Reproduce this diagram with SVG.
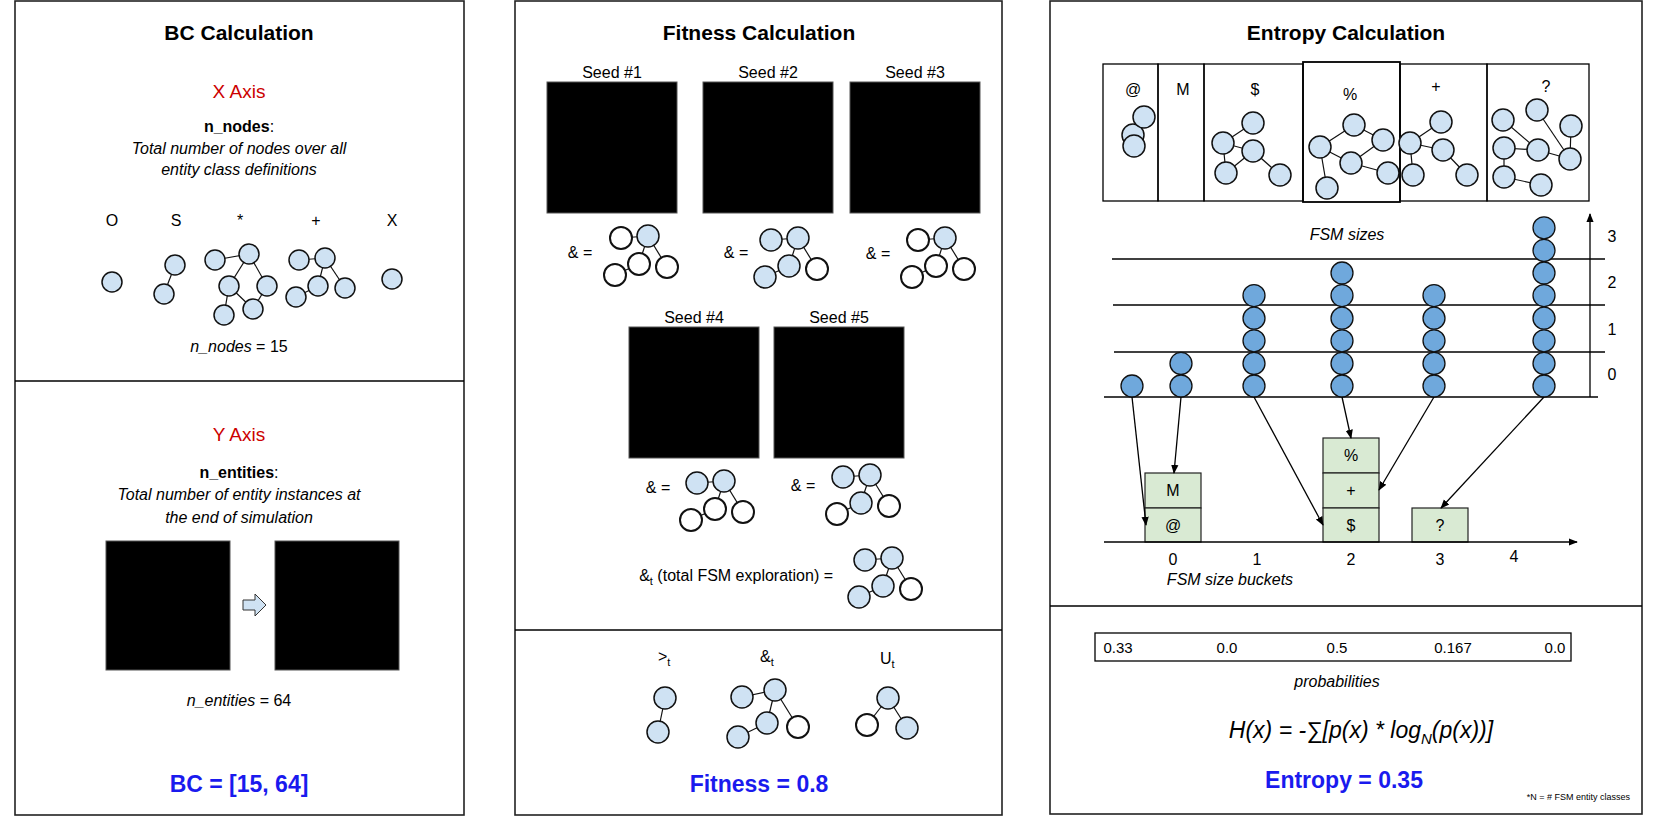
<svg xmlns="http://www.w3.org/2000/svg" width="1660" height="817" viewBox="0 0 1660 817">
<defs>
<marker id="ah" viewBox="0 0 10 10" refX="9" refY="5" markerWidth="7" markerHeight="7" orient="auto"><path d="M0,1 L10,5 L0,9 Z" fill="#000"/></marker>
<style>
text{font-family:"Liberation Sans",Arial,sans-serif;fill:#000}
.t{font-size:21px;font-weight:bold;text-anchor:middle}
.red{font-size:19px;fill:#cc0000;text-anchor:middle}
.m{font-size:16px;text-anchor:middle}
.i{font-size:16px;font-style:italic;text-anchor:middle}
.blue{font-size:23px;font-weight:bold;fill:#1a1aee;text-anchor:middle}
.gr{font-family:"Liberation Mono","DejaVu Sans Mono",monospace;font-size:12px;fill:#d8d8d8}
.bg{fill:#000;stroke:#555}
.panel{fill:#fff;stroke:#222;stroke-width:1.6}
.n{fill:#cfe2f3;stroke:#111;stroke-width:1.5}
.w{fill:#fff;stroke:#111;stroke-width:2}
.h{fill:#6fa8dc;stroke:#111;stroke-width:1.3}
.e{stroke:#111;stroke-width:1.2;fill:none}
.ln{stroke:#000;stroke-width:1.3;fill:none}
.gb{fill:#d9ead3;stroke:#222;stroke-width:1.2}
</style>
</defs>
<rect width="1660" height="817" fill="#fff"/>

<g id="panel-bc">
<rect class="panel" x="15" y="1" width="449" height="814"/>
<line class="ln" x1="15" y1="381" x2="464" y2="381" stroke-width="2"/>
<text class="t" x="239" y="40">BC Calculation</text>
<text class="red" x="239" y="98">X Axis</text>
<text class="m" x="239" y="132"><tspan font-weight="bold">n_nodes</tspan>:</text>
<text class="i" x="239" y="154">Total number of nodes over all</text>
<text class="i" x="239" y="175">entity class definitions</text>
<text class="m" x="112" y="226">O</text><text class="m" x="176" y="226">S</text><text class="m" x="240" y="226">*</text><text class="m" x="316" y="226">+</text><text class="m" x="392" y="226">X</text>
<g class="e"><line x1="175" y1="265" x2="164" y2="294"/><line x1="215" y1="260" x2="249" y2="254"/><line x1="249" y1="254" x2="229" y2="286"/><line x1="249" y1="254" x2="267" y2="286"/><line x1="229" y1="286" x2="224" y2="315"/><line x1="229" y1="286" x2="253" y2="309"/><line x1="267" y1="286" x2="253" y2="309"/><line x1="299" y1="260" x2="325" y2="258"/><line x1="325" y1="258" x2="318" y2="286"/><line x1="325" y1="258" x2="345" y2="288"/><line x1="318" y1="286" x2="296" y2="297"/></g>
<g class="n"><circle cx="112" cy="282" r="10"/><circle cx="175" cy="265" r="10"/><circle cx="164" cy="294" r="10"/><circle cx="215" cy="260" r="10"/><circle cx="249" cy="254" r="10"/><circle cx="229" cy="286" r="10"/><circle cx="267" cy="286" r="10"/><circle cx="224" cy="315" r="10"/><circle cx="253" cy="309" r="10"/><circle cx="299" cy="260" r="10"/><circle cx="325" cy="258" r="10"/><circle cx="318" cy="286" r="10"/><circle cx="345" cy="288" r="10"/><circle cx="296" cy="297" r="10"/><circle cx="392" cy="279" r="10"/></g>
<text class="m" x="239" y="352"><tspan font-style="italic">n_nodes</tspan> = 15</text>
<text class="red" x="239" y="441">Y Axis</text>
<text class="m" x="239" y="478"><tspan font-weight="bold">n_entities</tspan>:</text>
<text class="i" x="239" y="500">Total number of entity instances at</text>
<text class="i" x="239" y="523">the end of simulation</text>
<rect class="bg" x="106" y="541" width="124" height="129"/>
<g class="gr">
<text x="109" y="555" textLength="118" lengthAdjust="spacingAndGlyphs">################</text>
<text x="109" y="571" textLength="118" lengthAdjust="spacingAndGlyphs">#..............#</text>
<text x="109" y="587" textLength="118" lengthAdjust="spacingAndGlyphs">#..............#</text>
<text x="109" y="603" textLength="118" lengthAdjust="spacingAndGlyphs">#..............#</text>
<text x="109" y="619" textLength="118" lengthAdjust="spacingAndGlyphs">#..............#</text>
<text x="109" y="635" textLength="118" lengthAdjust="spacingAndGlyphs">#...........O..#</text>
<text x="109" y="651" textLength="118" lengthAdjust="spacingAndGlyphs">#..............#</text>
<text x="109" y="667" textLength="118" lengthAdjust="spacingAndGlyphs">################</text>
</g>
<path d="M243,600 H255 V594 L266,605 L255,616 V610 H243 Z" fill="#cfe2f3" stroke="#333"/>
<rect class="bg" x="275" y="541" width="124" height="129"/>
<g class="gr">
<text x="278" y="555" textLength="118" lengthAdjust="spacingAndGlyphs">################</text>
<text x="278" y="571" textLength="118" lengthAdjust="spacingAndGlyphs">#.+**.>S.XO^...#</text>
<text x="278" y="587" textLength="118" lengthAdjust="spacingAndGlyphs">#*.OO^.+O^.+S..#</text>
<text x="278" y="603" textLength="118" lengthAdjust="spacingAndGlyphs">#..X@O...+.>S..#</text>
<text x="278" y="619" textLength="118" lengthAdjust="spacingAndGlyphs">#SSS.+X...+&lt;...#</text>
<text x="278" y="635" textLength="118" lengthAdjust="spacingAndGlyphs">#*.SSS.S*.*+...#</text>
<text x="278" y="651" textLength="118" lengthAdjust="spacingAndGlyphs">#.XS.........*.#</text>
<text x="278" y="667" textLength="118" lengthAdjust="spacingAndGlyphs">################</text>
</g>
<text class="m" x="239" y="706"><tspan font-style="italic">n_entities</tspan> = 64</text>
<text class="blue" x="239" y="792">BC = [15, 64]</text>
</g>

<g id="panel-fitness">
<rect class="panel" x="515" y="1" width="487" height="814"/>
<line class="ln" x1="515" y1="630" x2="1002" y2="630" stroke-width="2"/>
<text class="t" x="759" y="40">Fitness Calculation</text>
<text class="m" x="612" y="78">Seed #1</text><text class="m" x="768" y="78">Seed #2</text><text class="m" x="915" y="78">Seed #3</text>
<text class="m" x="694" y="323">Seed #4</text><text class="m" x="839" y="323">Seed #5</text>
<g id="seed1"><rect class="bg" x="547" y="82" width="130" height="131"/><g class="gr">
<text x="550" y="97" textLength="124" lengthAdjust="spacingAndGlyphs">################</text>
<text x="550" y="113" textLength="124" lengthAdjust="spacingAndGlyphs">#..&amp;...........#</text>
<text x="550" y="129" textLength="124" lengthAdjust="spacingAndGlyphs">#..............#</text>
<text x="550" y="145" textLength="124" lengthAdjust="spacingAndGlyphs">#..............#</text>
<text x="550" y="161" textLength="124" lengthAdjust="spacingAndGlyphs">#.............A#</text>
<text x="550" y="177" textLength="124" lengthAdjust="spacingAndGlyphs">#..............#</text>
<text x="550" y="193" textLength="124" lengthAdjust="spacingAndGlyphs">#..............#</text>
<text x="550" y="209" textLength="124" lengthAdjust="spacingAndGlyphs">################</text></g></g>
<g id="seed2"><rect class="bg" x="703" y="82" width="130" height="131"/><g class="gr">
<text x="706" y="97" textLength="124" lengthAdjust="spacingAndGlyphs">################</text>
<text x="706" y="113" textLength="124" lengthAdjust="spacingAndGlyphs">#mm....+++++++.#</text>
<text x="706" y="129" textLength="124" lengthAdjust="spacingAndGlyphs">#.m...++&amp;++++..#</text>
<text x="706" y="145" textLength="124" lengthAdjust="spacingAndGlyphs">#....+++++UUU..#</text>
<text x="706" y="161" textLength="124" lengthAdjust="spacingAndGlyphs">#.....+++UUUU..#</text>
<text x="706" y="177" textLength="124" lengthAdjust="spacingAndGlyphs">#...&amp;...+.+....#</text>
<text x="706" y="193" textLength="124" lengthAdjust="spacingAndGlyphs">#............QQ#</text>
<text x="706" y="209" textLength="124" lengthAdjust="spacingAndGlyphs">################</text></g></g>
<g id="seed3"><rect class="bg" x="850" y="82" width="130" height="131"/><g class="gr">
<text x="853" y="97" textLength="124" lengthAdjust="spacingAndGlyphs">################</text>
<text x="853" y="113" textLength="124" lengthAdjust="spacingAndGlyphs">#..............#</text>
<text x="853" y="129" textLength="124" lengthAdjust="spacingAndGlyphs">#.......&amp;......#</text>
<text x="853" y="145" textLength="124" lengthAdjust="spacingAndGlyphs">#....Q.........#</text>
<text x="853" y="161" textLength="124" lengthAdjust="spacingAndGlyphs">#..............#</text>
<text x="853" y="177" textLength="124" lengthAdjust="spacingAndGlyphs">#..............#</text>
<text x="853" y="193" textLength="124" lengthAdjust="spacingAndGlyphs">#..............#</text>
<text x="853" y="209" textLength="124" lengthAdjust="spacingAndGlyphs">################</text></g></g>
<g id="seed4"><rect class="bg" x="629" y="327" width="130" height="131"/><g class="gr">
<text x="632" y="342" textLength="124" lengthAdjust="spacingAndGlyphs">################</text>
<text x="632" y="358" textLength="124" lengthAdjust="spacingAndGlyphs">#..............#</text>
<text x="632" y="374" textLength="124" lengthAdjust="spacingAndGlyphs">#m.m....&amp;.+++..#</text>
<text x="632" y="390" textLength="124" lengthAdjust="spacingAndGlyphs">#....Q.....+&amp;..#</text>
<text x="632" y="406" textLength="124" lengthAdjust="spacingAndGlyphs">#.m........+&amp;..#</text>
<text x="632" y="422" textLength="124" lengthAdjust="spacingAndGlyphs">#.......&gt;.+....#</text>
<text x="632" y="438" textLength="124" lengthAdjust="spacingAndGlyphs">#............QQ#</text>
<text x="632" y="454" textLength="124" lengthAdjust="spacingAndGlyphs">################</text></g></g>
<g id="seed5"><rect class="bg" x="774" y="327" width="130" height="131"/><g class="gr">
<text x="777" y="342" textLength="124" lengthAdjust="spacingAndGlyphs">################</text>
<text x="777" y="358" textLength="124" lengthAdjust="spacingAndGlyphs">#&gt;.............#</text>
<text x="777" y="374" textLength="124" lengthAdjust="spacingAndGlyphs">#..&amp;.......&amp;&amp;..#</text>
<text x="777" y="390" textLength="124" lengthAdjust="spacingAndGlyphs">#......&amp;.......#</text>
<text x="777" y="406" textLength="124" lengthAdjust="spacingAndGlyphs">#..............#</text>
<text x="777" y="422" textLength="124" lengthAdjust="spacingAndGlyphs">#...&amp;.....+....#</text>
<text x="777" y="438" textLength="124" lengthAdjust="spacingAndGlyphs">#............&gt;.#</text>
<text x="777" y="454" textLength="124" lengthAdjust="spacingAndGlyphs">################</text></g></g>

<text class="m" x="580" y="258">&amp; =</text>
<text class="m" x="736" y="258">&amp; =</text>
<text class="m" x="878" y="259">&amp; =</text>
<text class="m" x="658" y="493">&amp; =</text>
<text class="m" x="803" y="491">&amp; =</text>
<text x="833" y="581" font-size="16" text-anchor="end">&amp;<tspan font-size="11" dy="4">t</tspan><tspan dy="-4"> (total FSM exploration) =</tspan></text>

<g id="g-s1"><g class="e"><line x1="621" y1="238" x2="648" y2="236"/><line x1="648" y1="236" x2="639" y2="264"/><line x1="648" y1="236" x2="667" y2="267"/><line x1="639" y1="264" x2="615" y2="275"/></g>
<circle class="w" cx="621" cy="238" r="11"/><circle class="n" cx="648" cy="236" r="11" stroke-width="2"/><circle class="w" cx="639" cy="264" r="11"/><circle class="w" cx="615" cy="275" r="11"/><circle class="w" cx="667" cy="267" r="11"/></g>
<g id="g-s2"><g class="e"><line x1="771" y1="240" x2="798" y2="238"/><line x1="798" y1="238" x2="789" y2="266"/><line x1="798" y1="238" x2="817" y2="269"/><line x1="789" y1="266" x2="765" y2="277"/></g>
<circle class="n" cx="771" cy="240" r="11" stroke-width="2"/><circle class="n" cx="798" cy="238" r="11" stroke-width="2"/><circle class="n" cx="789" cy="266" r="11" stroke-width="2"/><circle class="n" cx="765" cy="277" r="11" stroke-width="2"/><circle class="w" cx="817" cy="269" r="11"/></g>
<g id="g-s3"><g class="e"><line x1="918" y1="240" x2="945" y2="238"/><line x1="945" y1="238" x2="936" y2="266"/><line x1="945" y1="238" x2="964" y2="269"/><line x1="936" y1="266" x2="912" y2="277"/></g>
<circle class="w" cx="918" cy="240" r="11"/><circle class="n" cx="945" cy="238" r="11" stroke-width="2"/><circle class="w" cx="936" cy="266" r="11"/><circle class="w" cx="912" cy="277" r="11"/><circle class="w" cx="964" cy="269" r="11"/></g>
<g id="g-s4"><g class="e"><line x1="697" y1="483" x2="724" y2="481"/><line x1="724" y1="481" x2="715" y2="509"/><line x1="724" y1="481" x2="743" y2="512"/><line x1="715" y1="509" x2="691" y2="520"/></g>
<circle class="n" cx="697" cy="483" r="11" stroke-width="2"/><circle class="n" cx="724" cy="481" r="11" stroke-width="2"/><circle class="w" cx="715" cy="509" r="11"/><circle class="w" cx="691" cy="520" r="11"/><circle class="w" cx="743" cy="512" r="11"/></g>
<g id="g-s5"><g class="e"><line x1="843" y1="477" x2="870" y2="475"/><line x1="870" y1="475" x2="861" y2="503"/><line x1="870" y1="475" x2="889" y2="506"/><line x1="861" y1="503" x2="837" y2="514"/></g>
<circle class="n" cx="843" cy="477" r="11" stroke-width="2"/><circle class="n" cx="870" cy="475" r="11" stroke-width="2"/><circle class="n" cx="861" cy="503" r="11" stroke-width="2"/><circle class="w" cx="837" cy="514" r="11"/><circle class="w" cx="889" cy="506" r="11"/></g>
<g id="g-total"><g class="e"><line x1="865" y1="560" x2="892" y2="558"/><line x1="892" y1="558" x2="883" y2="586"/><line x1="892" y1="558" x2="911" y2="589"/><line x1="883" y1="586" x2="859" y2="597"/></g>
<circle class="n" cx="865" cy="560" r="11" stroke-width="2"/><circle class="n" cx="892" cy="558" r="11" stroke-width="2"/><circle class="n" cx="883" cy="586" r="11" stroke-width="2"/><circle class="n" cx="859" cy="597" r="11" stroke-width="2"/><circle class="w" cx="911" cy="589" r="11"/></g>

<text x="658" y="662" font-size="16">&gt;<tspan font-size="11" dy="4">t</tspan></text>
<text x="760" y="662" font-size="16">&amp;<tspan font-size="11" dy="4">t</tspan></text>
<text x="880" y="664" font-size="16">U<tspan font-size="11" dy="4">t</tspan></text>
<g id="g-gt"><line class="e" x1="665" y1="698" x2="658" y2="732"/><circle class="n" cx="665" cy="698" r="11" stroke-width="2"/><circle class="n" cx="658" cy="732" r="11" stroke-width="2"/></g>
<g id="g-at"><g class="e"><line x1="742" y1="697" x2="775" y2="690"/><line x1="775" y1="690" x2="767" y2="723"/><line x1="775" y1="690" x2="798" y2="727"/><line x1="767" y1="723" x2="738" y2="737"/></g>
<circle class="n" cx="742" cy="697" r="11" stroke-width="2"/><circle class="n" cx="775" cy="690" r="11" stroke-width="2"/><circle class="n" cx="767" cy="723" r="11" stroke-width="2"/><circle class="n" cx="738" cy="737" r="11" stroke-width="2"/><circle class="w" cx="798" cy="727" r="11"/></g>
<g id="g-ut"><g class="e"><line x1="888" y1="698" x2="867" y2="725"/><line x1="888" y1="698" x2="907" y2="728"/></g>
<circle class="n" cx="888" cy="698" r="11" stroke-width="2"/><circle class="w" cx="867" cy="725" r="11"/><circle class="n" cx="907" cy="728" r="11" stroke-width="2"/></g>
<text class="blue" x="759" y="792">Fitness = 0.8</text>
</g>

<g id="panel-entropy">
<rect class="panel" x="1050" y="1" width="592" height="813"/>
<line class="ln" x1="1050" y1="606" x2="1642" y2="606" stroke-width="2"/>
<text class="t" x="1346" y="40">Entropy Calculation</text>
<g id="classes" class="ln">
<rect x="1103" y="64" width="55" height="137"/><rect x="1158" y="64" width="46" height="137"/><rect x="1204" y="64" width="99" height="137"/><rect x="1303" y="62" width="97" height="140" stroke-width="1.8"/><rect x="1400" y="64" width="87" height="137"/><rect x="1487" y="64" width="102" height="137"/>
</g>
<text class="m" x="1133" y="95">@</text><text class="m" x="1183" y="95">M</text><text class="m" x="1255" y="95">$</text><text class="m" x="1350" y="100">%</text><text class="m" x="1436" y="92">+</text><text class="m" x="1546" y="92">?</text>
<g class="e">
<line x1="1144" y1="117" x2="1134" y2="146"/>
<line x1="1253" y1="123" x2="1223" y2="143"/><line x1="1223" y1="143" x2="1253" y2="151"/><line x1="1223" y1="143" x2="1226" y2="173"/><line x1="1253" y1="151" x2="1226" y2="173"/><line x1="1253" y1="151" x2="1280" y2="175"/>
<line x1="1354" y1="125" x2="1320" y2="147"/><line x1="1354" y1="125" x2="1383" y2="140"/><line x1="1383" y1="140" x2="1351" y2="163"/><line x1="1320" y1="147" x2="1351" y2="163"/><line x1="1320" y1="147" x2="1327" y2="188"/><line x1="1351" y1="163" x2="1388" y2="173"/>
<line x1="1441" y1="122" x2="1410" y2="143"/><line x1="1410" y1="143" x2="1443" y2="150"/><line x1="1410" y1="143" x2="1413" y2="175"/><line x1="1443" y1="150" x2="1467" y2="175"/>
<line x1="1503" y1="120" x2="1538" y2="150"/><line x1="1537" y1="110" x2="1570" y2="159"/><line x1="1571" y1="126" x2="1570" y2="159"/><line x1="1504" y1="148" x2="1538" y2="150"/><line x1="1538" y1="150" x2="1570" y2="159"/><line x1="1504" y1="148" x2="1504" y2="177"/><line x1="1504" y1="177" x2="1541" y2="185"/>
</g>
<g class="n" stroke-width="1.3">
<circle cx="1133" cy="135" r="11"/>
<circle cx="1144" cy="117" r="11"/><circle cx="1134" cy="146" r="11"/>
<circle cx="1253" cy="123" r="11"/><circle cx="1223" cy="143" r="11"/><circle cx="1253" cy="151" r="11"/><circle cx="1226" cy="173" r="11"/><circle cx="1280" cy="175" r="11"/>
<circle cx="1354" cy="125" r="11"/><circle cx="1320" cy="147" r="11"/><circle cx="1383" cy="140" r="11"/><circle cx="1351" cy="163" r="11"/><circle cx="1327" cy="188" r="11"/><circle cx="1388" cy="173" r="11"/>
<circle cx="1441" cy="122" r="11"/><circle cx="1410" cy="143" r="11"/><circle cx="1443" cy="150" r="11"/><circle cx="1413" cy="175" r="11"/><circle cx="1467" cy="175" r="11"/>
<circle cx="1503" cy="120" r="11"/><circle cx="1537" cy="110" r="11"/><circle cx="1571" cy="126" r="11"/><circle cx="1504" cy="148" r="11"/><circle cx="1538" cy="150" r="11"/><circle cx="1570" cy="159" r="11"/><circle cx="1504" cy="177" r="11"/><circle cx="1541" cy="185" r="11"/>
</g>

<text class="i" x="1347" y="240" font-size="15">FSM sizes</text>
<g class="ln">
<line x1="1112" y1="259" x2="1605" y2="259"/><line x1="1113" y1="305" x2="1605" y2="305"/><line x1="1114" y1="352" x2="1605" y2="352"/><line x1="1104" y1="397" x2="1598" y2="397"/>
<line x1="1590" y1="397" x2="1590" y2="214" marker-end="url(#ah)"/>
</g>
<text class="m" x="1612" y="242" font-size="14">3</text><text class="m" x="1612" y="288" font-size="14">2</text><text class="m" x="1612" y="335" font-size="14">1</text><text class="m" x="1612" y="380" font-size="14">0</text>
<g id="hist" class="h">
<circle cx="1132" cy="386" r="11"/>
<circle cx="1181" cy="386" r="11"/><circle cx="1181" cy="363.4" r="11"/>
<circle cx="1254" cy="386" r="11"/><circle cx="1254" cy="363.4" r="11"/><circle cx="1254" cy="340.8" r="11"/><circle cx="1254" cy="318.2" r="11"/><circle cx="1254" cy="295.6" r="11"/>
<circle cx="1342" cy="386" r="11"/><circle cx="1342" cy="363.4" r="11"/><circle cx="1342" cy="340.8" r="11"/><circle cx="1342" cy="318.2" r="11"/><circle cx="1342" cy="295.6" r="11"/><circle cx="1342" cy="273" r="11"/>
<circle cx="1434" cy="386" r="11"/><circle cx="1434" cy="363.4" r="11"/><circle cx="1434" cy="340.8" r="11"/><circle cx="1434" cy="318.2" r="11"/><circle cx="1434" cy="295.6" r="11"/>
<circle cx="1544" cy="386" r="11"/><circle cx="1544" cy="363.4" r="11"/><circle cx="1544" cy="340.8" r="11"/><circle cx="1544" cy="318.2" r="11"/><circle cx="1544" cy="295.6" r="11"/><circle cx="1544" cy="273" r="11"/><circle cx="1544" cy="250.4" r="11"/><circle cx="1544" cy="227.8" r="11"/>
</g>
<g id="buckets">
<rect class="gb" x="1145" y="473" width="56" height="35"/><rect class="gb" x="1145" y="508" width="56" height="34"/>
<rect class="gb" x="1323" y="438" width="56" height="35"/><rect class="gb" x="1323" y="473" width="56" height="35"/><rect class="gb" x="1323" y="508" width="56" height="34"/>
<rect class="gb" x="1412" y="508" width="56" height="34"/>
<text class="m" x="1173" y="496">M</text><text class="m" x="1173" y="531">@</text>
<text class="m" x="1351" y="461">%</text><text class="m" x="1351" y="496">+</text><text class="m" x="1351" y="531">$</text>
<text class="m" x="1440" y="531">?</text>
</g>
<g id="connectors" class="ln" stroke-width="1">
<line x1="1104" y1="542" x2="1577" y2="542" stroke-width="1.3" marker-end="url(#ah)"/>
<line x1="1132" y1="397" x2="1146" y2="525" marker-end="url(#ah)"/>
<line x1="1181" y1="397" x2="1174" y2="473" marker-end="url(#ah)"/>
<line x1="1254" y1="397" x2="1323" y2="525" marker-end="url(#ah)"/>
<line x1="1342" y1="397" x2="1351" y2="438" marker-end="url(#ah)"/>
<line x1="1434" y1="397" x2="1379" y2="490" marker-end="url(#ah)"/>
<line x1="1544" y1="397" x2="1441" y2="508" marker-end="url(#ah)"/>
</g>
<text class="m" x="1173" y="565" font-size="13">0</text><text class="m" x="1257" y="565" font-size="13">1</text><text class="m" x="1351" y="565" font-size="13">2</text><text class="m" x="1440" y="565" font-size="13">3</text><text class="m" x="1514" y="562" font-size="13">4</text>
<text class="i" x="1230" y="585" font-size="14">FSM size buckets</text>

<rect class="ln" x="1095" y="633" width="476" height="28" stroke-width="1"/>
<g font-size="15"><text x="1118" y="653" text-anchor="middle" font-size="15">0.33</text><text x="1227" y="653" text-anchor="middle" font-size="15">0.0</text><text x="1337" y="653" text-anchor="middle" font-size="15">0.5</text><text x="1453" y="653" text-anchor="middle" font-size="15">0.167</text><text x="1555" y="653" text-anchor="middle" font-size="15">0.0</text></g>
<text class="i" x="1337" y="687" font-size="13">probabilities</text>
<text x="1361" y="738" font-size="23" font-style="italic" text-anchor="middle">H(x) = -∑[p(x) * log<tspan font-size="15" dy="6">N</tspan><tspan dy="-6">(p(x))]</tspan></text>
<text class="blue" x="1344" y="788">Entropy = 0.35</text>
<text x="1630" y="800" font-size="9" text-anchor="end">*N = # FSM entity classes</text>
</g>
</svg>
